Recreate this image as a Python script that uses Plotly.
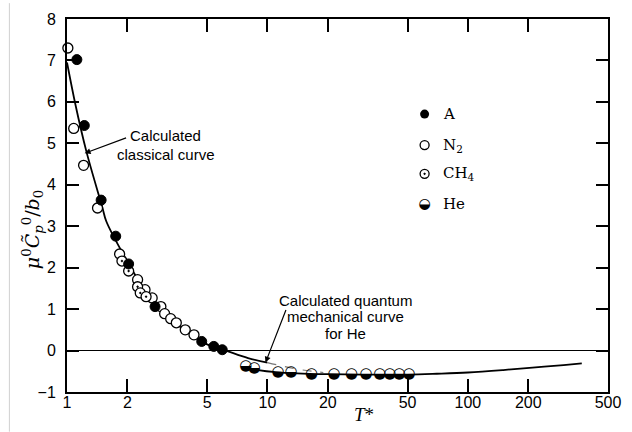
import math
import plotly.graph_objects as go

# ---------------- data ----------------
A_T = [1.12, 1.22, 1.48, 1.75, 2.03, 2.75, 4.7, 5.4, 5.95]
A_C = [7.02, 5.43, 3.63, 2.76, 2.09, 1.06, 0.22, 0.10, 0.02]

N2_T = [1.01, 1.08, 1.21, 1.42, 1.83, 2.25, 2.45, 2.66, 2.94, 3.07, 3.29, 3.51, 3.89, 4.3]
N2_C = [7.3, 5.36, 4.47, 3.44, 2.33, 1.71, 1.47, 1.27, 1.06, 0.89, 0.77, 0.67, 0.50, 0.38]

CH4_T = [1.88, 2.03, 2.25, 2.32, 2.48]
CH4_C = [2.16, 1.92, 1.54, 1.39, 1.30]

He_T = [7.8, 8.6, 11.3, 13.1, 16.6, 21.5, 26.3, 31, 36.4, 40.8, 45.5, 50.9]
He_C = [-0.38, -0.43, -0.53, -0.53, -0.56, -0.58, -0.58, -0.58, -0.58, -0.58, -0.58, -0.58]

classical_T = [1.0, 1.1, 1.25, 1.5, 1.57, 2.0, 2.5, 3.0, 4.0, 5.0, 6.2, 8.0, 10.0]
classical_C = [6.95, 5.95, 4.8, 3.46, 3.12, 2.15, 1.38, 0.92, 0.44, 0.15, 0.0, -0.18, -0.29]

classical_ext_T = [10.0, 12.0, 15.0, 19.0]
classical_ext_C = [-0.29, -0.38, -0.47, -0.53]

quantum_T = [7.6, 9.0, 11.0, 14.0, 20.0, 30.0, 50.0, 70.0, 100.0, 150.0, 210.0, 300.0, 370.0]
quantum_C = [-0.40, -0.47, -0.52, -0.55, -0.57, -0.58, -0.58, -0.56, -0.53, -0.47, -0.41, -0.35, -0.31]

x_ticks = [1, 2, 5, 10, 20, 50, 100, 200, 500]
y_ticks = [-1, 0, 1, 2, 3, 4, 5, 6, 7, 8]

legend_names = ["A", "N<sub>2</sub>", "CH<sub>4</sub>", "He"]

# ---------------- figure ----------------
fig = go.Figure()

fig.add_trace(go.Scatter(x=classical_T, y=classical_C, mode="lines",
                         line=dict(color="black", width=1.8, shape="spline"),
                         hoverinfo="skip"))
fig.add_trace(go.Scatter(x=classical_ext_T, y=classical_ext_C, mode="lines",
                         line=dict(color="#777777", width=1.2, dash="dash", shape="spline"),
                         hoverinfo="skip"))
fig.add_trace(go.Scatter(x=quantum_T, y=quantum_C, mode="lines",
                         line=dict(color="black", width=1.8, shape="spline"),
                         hoverinfo="skip"))

mk_size = 10
fig.add_trace(go.Scatter(x=N2_T, y=N2_C, mode="markers", cliponaxis=False,
                         marker=dict(symbol="circle", size=mk_size, color="white",
                                     line=dict(color="black", width=1.3))))
fig.add_trace(go.Scatter(x=CH4_T, y=CH4_C, mode="markers", cliponaxis=False,
                         marker=dict(symbol="circle-dot", size=mk_size, color="white",
                                     line=dict(color="black", width=1.3))))
fig.add_trace(go.Scatter(x=A_T, y=A_C, mode="markers", cliponaxis=False,
                         marker=dict(symbol="circle", size=mk_size, color="black",
                                     line=dict(color="black", width=1))))
fig.add_trace(go.Scatter(x=He_T, y=He_C, mode="text", cliponaxis=False,
                         text=["\u25D2"] * len(He_T), textposition="middle center",
                         textfont=dict(family="DejaVu Sans", size=15, color="black")))

# legend built from markers on an overlay axis
leg_y = [0.745, 0.662, 0.585, 0.503]
leg_x = 0.661
fig.add_trace(go.Scatter(x=[leg_x], y=[leg_y[0]], xaxis="x2", yaxis="y2", mode="markers",
                         marker=dict(symbol="circle", size=9, color="black")))
fig.add_trace(go.Scatter(x=[leg_x], y=[leg_y[1]], xaxis="x2", yaxis="y2", mode="markers",
                         marker=dict(symbol="circle", size=9, color="white",
                                     line=dict(color="black", width=1.3))))
fig.add_trace(go.Scatter(x=[leg_x], y=[leg_y[2]], xaxis="x2", yaxis="y2", mode="markers",
                         marker=dict(symbol="circle-dot", size=9, color="white",
                                     line=dict(color="black", width=1.3))))
fig.add_trace(go.Scatter(x=[leg_x], y=[leg_y[3]], xaxis="x2", yaxis="y2", mode="text",
                         text=["\u25D2"], textposition="middle center",
                         textfont=dict(family="DejaVu Sans", size=14, color="black")))

annotations = []
for name, yy in zip(legend_names, leg_y):
    annotations.append(dict(x=0.691, y=yy, xref="paper", yref="paper", text=name,
                            showarrow=False, xanchor="left", yanchor="middle",
                            font=dict(family="DejaVu Serif", size=15, color="black")))

sans = dict(family="Liberation Sans", size=15, color="black")
# classical curve label
for txt, py in [("Calculated", 133), ("classical curve", 153)]:
    annotations.append(dict(x=(168 - 67) / 554, y=(392 - py) / 376, xref="paper", yref="paper",
                            text=txt, showarrow=False, xanchor="center", yanchor="middle",
                            font=sans))
annotations.append(dict(x=math.log10(1.224), y=4.76, xref="x", yref="y", text="",
                        showarrow=True, ax=43, ay=-16, arrowhead=2, arrowsize=1,
                        arrowwidth=1.2, arrowcolor="black"))
# quantum curve label
for txt, py in [("Calculated quantum", 300), ("mechanical curve", 316), ("for He", 333)]:
    annotations.append(dict(x=(352 - 67) / 554, y=(392 - py) / 376, xref="paper", yref="paper",
                            text=txt, showarrow=False, xanchor="center", yanchor="middle",
                            font=sans))
annotations.append(dict(x=math.log10(9.78), y=-0.29, xref="x", yref="y", text="",
                        showarrow=True, ax=21, ay=-54, arrowhead=2, arrowsize=1,
                        arrowwidth=1.2, arrowcolor="black"))

# axis titles
annotations.append(dict(x=(31 - 67) / 554, y=(392 - 228) / 376, xref="paper", yref="paper",
                        text="<i>μ</i><sup>0</sup><i>C\u0303</i><sub><i>p</i></sub><sup>0</sup>/<i>b</i><sub>0</sub>",
                        textangle=-90, showarrow=False, xanchor="center", yanchor="middle",
                        font=dict(family="DejaVu Serif", size=19, color="black")))
annotations.append(dict(x=(371 - 67) / 554, y=(392 - 415) / 376, xref="paper", yref="paper",
                        text="<i>T</i>*", showarrow=False, xanchor="center", yanchor="middle",
                        font=dict(family="Liberation Serif", size=19, color="black")))

axis_common = dict(showgrid=False, ticks="inside", tickcolor="black", tickwidth=1.5,
                   showline=True, linecolor="black", linewidth=2, mirror="ticks",
                   tickfont=dict(family="Liberation Sans", size=16, color="black"))

fig.update_layout(
    width=632, height=432,
    margin=dict(l=67, r=11, t=16, b=40),
    paper_bgcolor="white", plot_bgcolor="white",
    showlegend=False,
    xaxis=dict(type="log", range=[0, math.log10(500)], tickvals=x_ticks,
               ticktext=[str(v) for v in x_ticks], ticklen=13, zeroline=False,
               ticklabeloverflow="allow", ticklabelstandoff=-5,
               **axis_common),
    yaxis=dict(range=[-1, 8], tickvals=y_ticks, ticktext=[("\u2212" + str(-v)) if v < 0 else str(v) for v in y_ticks],
               ticklen=12, zeroline=True, zerolinecolor="black", zerolinewidth=1,
               ticklabelstandoff=6, **axis_common),
    xaxis2=dict(overlaying="x", range=[0, 1], visible=False),
    yaxis2=dict(overlaying="y", range=[0, 1], visible=False),
    annotations=annotations,
    shapes=[dict(type="line", xref="paper", yref="paper", x0=(8 - 67) / 554, x1=(8 - 67) / 554,
                 y0=-40 / 376, y1=392 / 376, line=dict(color="#d0d0d0", width=1))],
)

fig.write_html("out.html")
